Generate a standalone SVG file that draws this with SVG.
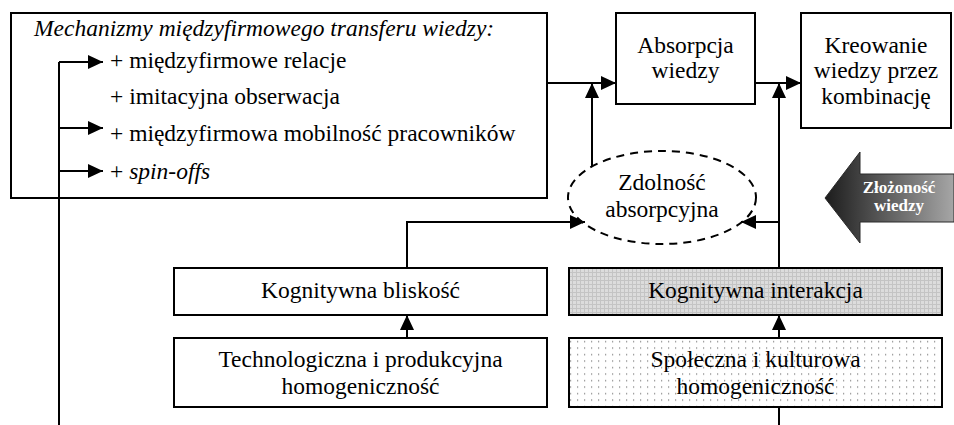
<svg xmlns="http://www.w3.org/2000/svg" width="954" height="425" viewBox="0 0 954 425">
<style>
.t{font-family:"Liberation Serif","Times New Roman",serif;font-size:23.5px;fill:#000}
.c{text-anchor:middle}
.i{font-style:italic}
.box{fill:#fff;stroke:#000;stroke-width:2}
.ln{fill:none;stroke:#000;stroke-width:2}
.w{font-family:"Liberation Serif","Times New Roman",serif;font-size:17px;font-weight:bold;fill:#fff;text-anchor:middle}
</style>
<defs>
<marker id="ah" markerWidth="15" markerHeight="14" refX="15" refY="7" orient="auto" markerUnits="userSpaceOnUse"><path d="M0,0 L15,7 L0,14 z" fill="#000"/></marker>
<pattern id="grid" width="4" height="4" patternUnits="userSpaceOnUse"><rect width="4" height="4" fill="#dcdcdc"/><path d="M0,0.5 H4 M0.5,0 V4" stroke="#c4c4c4" stroke-width="1"/></pattern>
<pattern id="dots" width="7" height="6.5" patternUnits="userSpaceOnUse"><rect width="7" height="6.5" fill="#fff"/><rect x="3" y="3" width="1.2" height="1.2" fill="#7a7a7a"/></pattern>
<linearGradient id="gr" x1="825" y1="0" x2="954" y2="0" gradientUnits="userSpaceOnUse"><stop offset="0" stop-color="#1c1c1c"/><stop offset="1" stop-color="#a6a6a6"/></linearGradient>
</defs>

<g id="mechanizmy">
<rect class="box" x="11" y="13" width="536" height="185"/>
<text class="t i" x="34" y="36">Mechanizmy międzyfirmowego transferu wiedzy:</text>
<text class="t" x="110" y="68">+ międzyfirmowe relacje</text>
<text class="t" x="110" y="104">+ imitacyjna obserwacja</text>
<text class="t" x="110" y="141">+ międzyfirmowa mobilność pracowników</text>
<text class="t" x="110" y="179">+ <tspan class="i">spin-offs</tspan></text>
</g>

<g id="absorpcja">
<rect class="box" x="616" y="13" width="139" height="91"/>
<text class="t c" x="685.5" y="53">Absorpcja</text>
<text class="t c" x="685.5" y="78">wiedzy</text>
</g>

<g id="kreowanie">
<rect class="box" x="801" y="13" width="150" height="115"/>
<text class="t c" x="876" y="53">Kreowanie</text>
<text class="t c" x="876" y="78">wiedzy przez</text>
<text class="t c" x="876" y="104">kombinację</text>
</g>

<g id="zdolnosc">
<ellipse cx="662" cy="197.5" rx="94" ry="46.5" fill="#fff" stroke="#000" stroke-width="2" stroke-dasharray="8,6"/>
<text class="t c" x="662" y="190">Zdolność</text>
<text class="t c" x="662" y="217">absorpcyjna</text>
</g>

<g id="zlozonosc">
<polygon points="825,198 860,152 860,174 954,174 954,222 860,222 860,243" fill="url(#gr)" stroke="#2a2a2a" stroke-width="1"/>
<text class="w" x="899" y="193">Złożoność</text>
<text class="w" x="899" y="211">wiedzy</text>
</g>

<g id="kog-bliskosc">
<rect class="box" x="174" y="268" width="373" height="47"/>
<text class="t c" x="360.5" y="298">Kognitywna bliskość</text>
</g>

<g id="tech-homo">
<rect class="box" x="174" y="338" width="373" height="69"/>
<text class="t c" x="360.5" y="367">Technologiczna i produkcyjna</text>
<text class="t c" x="360.5" y="394">homogeniczność</text>
</g>

<g id="kog-interakcja">
<rect x="569" y="268" width="373" height="47" fill="url(#grid)" stroke="#000" stroke-width="2"/>
<text class="t c" x="755.5" y="298">Kognitywna interakcja</text>
</g>

<g id="spol-homo">
<rect x="569" y="338" width="373" height="69" fill="url(#dots)" stroke="#000" stroke-width="2"/>
<text class="t c" x="755.5" y="367">Społeczna i kulturowa</text>
<text class="t c" x="755.5" y="394">homogeniczność</text>
</g>

<g id="connectors">
<path class="ln" d="M59,425 V62"/>
<path class="ln" d="M59,62 H103" marker-end="url(#ah)"/>
<path class="ln" d="M59,128 H103" marker-end="url(#ah)"/>
<path class="ln" d="M59,171 H103" marker-end="url(#ah)"/>
<path class="ln" d="M547,83 H616" marker-end="url(#ah)"/>
<path class="ln" d="M592,167 V83" marker-end="url(#ah)"/>
<path class="ln" d="M755,83 H801" marker-end="url(#ah)"/>
<path class="ln" d="M779,268 V83" marker-end="url(#ah)"/>
<path class="ln" d="M779,222 H741" marker-end="url(#ah)"/>
<path class="ln" d="M779,338 V315" marker-end="url(#ah)"/>
<path class="ln" d="M779,425 V407"/>
<path class="ln" d="M407,268 V222 H585" marker-end="url(#ah)"/>
<path class="ln" d="M407,338 V315" marker-end="url(#ah)"/>
</g>
</svg>
